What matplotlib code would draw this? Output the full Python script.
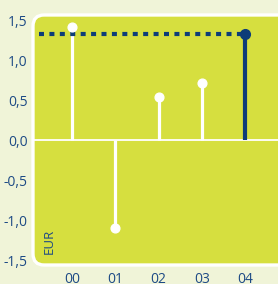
import matplotlib

matplotlib.use("Agg")
import matplotlib.pyplot as plt
from matplotlib.patches import FancyBboxPatch

years = ["00", "01", "02", "03", "04"]
values = [1.41, -1.10, 0.54, 0.71, 1.32]
y_ticks = [-1.5, -1.0, -0.5, 0.0, 0.5, 1.0, 1.5]
unit = "EUR"

BG = "#f0f4d8"
LIME = "#d6df3f"
NAVY = "#0d3d78"
TEXT = "#1d4a85"

plt.rcParams["font.family"] = ["Open Sans", "DejaVu Sans"]

fig = plt.figure(figsize=(2.78, 2.84), dpi=100, facecolor=BG)
ax = fig.add_axes([33 / 278, 19 / 284, 245 / 278, 250 / 284])
ax.set_facecolor("none")
ax.set_xlim(-0.9, 4.76)
ax.set_ylim(-1.5625, 1.5625)

# rounded lime panel, runs off the right edge
panel = FancyBboxPatch((0, 0), 1.1, 1, boxstyle="round,pad=0,rounding_size=0.045",
                       transform=ax.transAxes, facecolor=LIME, edgecolor="white",
                       linewidth=2.4, clip_on=False, zorder=0)
ax.add_patch(panel)

ax.axhline(0, color="white", lw=1.3, zorder=1)

xs = list(range(len(years)))
for i, v in enumerate(values[:-1]):
    ax.plot([xs[i], xs[i]], [0, v], color="white", lw=2.3, zorder=2, solid_capstyle="butt")
    ax.plot(xs[i], v, "o", color="white", ms=6.3, zorder=3)

# last year highlighted with dotted reference line
last = len(values) - 1
ax.plot([-0.75, xs[last]], [values[last], values[last]], color=NAVY, lw=3,
        linestyle=(0, (1.2, 1.3)), zorder=2, solid_capstyle="butt")
ax.plot([xs[last], xs[last]], [0, values[last]], color=NAVY, lw=3, zorder=3,
        solid_capstyle="butt")
ax.plot(xs[last], values[last], "o", color=NAVY, ms=7, zorder=4)

ax.set_xticks(xs)
ax.set_xticklabels(years)
ax.set_yticks(y_ticks)
ax.set_yticklabels([f"{t:.1f}".replace(".", ",") for t in y_ticks])
ax.tick_params(length=0, colors=TEXT, labelsize=10)
ax.tick_params(axis="y", pad=4)
ax.tick_params(axis="x", pad=5)
for s in ax.spines.values():
    s.set_visible(False)

ax.text(-0.52, -1.42, unit, rotation=90, color=TEXT, fontsize=9.5,
        ha="center", va="bottom")

fig.savefig("out.png", dpi=100, facecolor=BG)
